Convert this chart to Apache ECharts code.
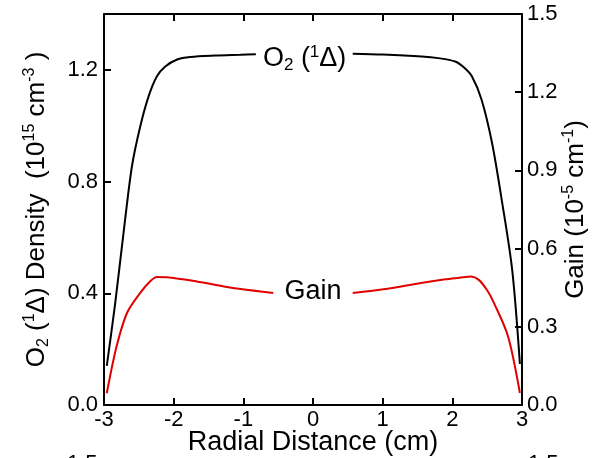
<!DOCTYPE html>
<html>
<head>
<meta charset="utf-8">
<script src="https://cdn.jsdelivr.net/npm/echarts@6/dist/echarts.min.js"></script>
<style>
  html, body { margin: 0; padding: 0; background: #fff; }
  #chart { width: 594px; height: 458px; }
</style>
</head>
<body>
<div id="chart"></div>
<script>
// Radial position across the discharge (cm)
const densityX = [-2.96, -2.84, -2.72, -2.60, -2.48, -2.36, -2.24, -2.12, -1.95, -1.76, -1.40, -1.04, -0.82, 0.0, 0.57, 1.0, 1.56, 1.80, 2.04, 2.16, 2.28, 2.42, 2.57, 2.71, 2.86, 2.97];
// O2(1Δ) density (10^15 cm^-3); null leaves room for the curve label
const densityY = [0.14, 0.363, 0.615, 0.853, 0.997, 1.105, 1.177, 1.212, 1.237, 1.246, 1.251, 1.254, 1.256, null, 1.258, 1.255, 1.248, 1.242, 1.230, 1.210, 1.177, 1.093, 0.938, 0.733, 0.482, 0.147];

const gainX = [-2.96, -2.82, -2.67, -2.48, -2.34, -2.24, -2.10, -1.67, -1.28, -1.04, -0.57, 0.0, 0.57, 1.04, 1.55, 1.90, 2.10, 2.27, 2.38, 2.50, 2.60, 2.80, 2.97];
// Small-signal gain (10^-5 cm^-1)
const gainY = [0.045, 0.224, 0.353, 0.430, 0.474, 0.491, 0.490, 0.474, 0.455, 0.445, 0.430, null, 0.430, 0.445, 0.468, 0.482, 0.488, 0.493, 0.480, 0.440, 0.390, 0.263, 0.046];

// Axis tick values
const xTicks = [-3, -2, -1, 0, 1, 2, 3];
const densityTicks = [0.0, 0.4, 0.8, 1.2];
const gainTicks = [0.0, 0.3, 0.6, 0.9, 1.2, 1.5];

// Curve label anchors [x, y]
const densityLabelAt = [-0.12, 1.24];
const gainLabelAt = [0.0, 0.435];

const FONT = "'Liberation Sans', Arial, sans-serif";
const scriptStyles = {
  sup: { fontSize: 16, fontFamily: FONT, color: '#000', verticalAlign: 'top', lineHeight: 16 },
  sub: { fontSize: 16, fontFamily: FONT, color: '#000', verticalAlign: 'bottom', lineHeight: 16 }
};

const pairs = (xs, ys) => xs.map((x, i) => [x, ys[i]]);

const chart = echarts.init(document.getElementById('chart'), null, { renderer: 'canvas' });

const axisLine = { show: true, onZero: false, lineStyle: { color: '#000', width: 2 } };
const axisTick = { show: true, inside: true, length: 7, lineStyle: { color: '#000', width: 2 } };

chart.setOption({
  animation: false,
  backgroundColor: '#fff',
  textStyle: { fontFamily: FONT },
  grid: { left: 104, right: 72, top: 14, bottom: 53, containLabel: false, outerBoundsMode: 'none' },
  xAxis: [
    {
      type: 'value', position: 'bottom', min: xTicks[0], max: xTicks[xTicks.length - 1], interval: 1,
      axisLine, axisTick, splitLine: { show: false },
      axisLabel: { color: '#000', fontSize: 22, fontFamily: FONT, margin: 4, formatter: v => String(v) },
      name: 'Radial Distance (cm)', nameLocation: 'middle', nameGap: 24, nameMoveOverlap: false,
      nameTextStyle: { color: '#000', fontSize: 27, fontFamily: FONT }
    },
    {
      type: 'value', position: 'top', min: xTicks[0], max: xTicks[xTicks.length - 1], interval: 1,
      axisLine, axisTick, splitLine: { show: false }, axisLabel: { show: false }
    }
  ],
  yAxis: [
    {
      type: 'value', position: 'left', min: 0, max: 1.4, interval: 0.4,
      axisLine, axisTick, splitLine: { show: false },
      axisLabel: {
        color: '#000', fontSize: 22, fontFamily: FONT, margin: 6,
        formatter: v => densityTicks.some(t => Math.abs(t - v) < 1e-6) ? v.toFixed(1) : ''
      },
      name: 'O{sub|2} ({sup|1}Δ) Density  (10{sup|15} cm{sup|-3} )',
      nameLocation: 'middle', nameGap: 52, nameMoveOverlap: false,
      nameTextStyle: { color: '#000', fontSize: 26, fontFamily: FONT, lineHeight: 30, rich: scriptStyles }
    },
    {
      type: 'value', position: 'right', min: gainTicks[0], max: gainTicks[gainTicks.length - 1], interval: 0.3,
      axisLine, axisTick, splitLine: { show: false },
      axisLabel: { color: '#000', fontSize: 22, fontFamily: FONT, margin: 5, formatter: v => v.toFixed(1) },
      name: 'Gain (10{sup|-5} cm{sup|-1})',
      nameLocation: 'middle', nameGap: 39, nameMoveOverlap: false,
      nameTextStyle: { color: '#000', fontSize: 26, fontFamily: FONT, lineHeight: 30, rich: scriptStyles }
    }
  ],
  series: [
    {
      type: 'line', name: 'density', xAxisIndex: 0, yAxisIndex: 0,
      data: pairs(densityX, densityY), showSymbol: false, smooth: 0.3, connectNulls: false,
      lineStyle: { color: '#000', width: 2 },
      markPoint: {
        symbol: 'circle', symbolSize: 0, silent: true,
        data: [{ coord: densityLabelAt, value: 'density' }],
        label: {
          show: true, position: 'inside', color: '#000', fontSize: 27, fontFamily: FONT, lineHeight: 30,
          formatter: 'O{sub|2} ({sup|1}Δ)',
          rich: {
            sub: { fontSize: 17, fontFamily: FONT, color: '#000', verticalAlign: 'bottom', lineHeight: 17 },
            sup: { fontSize: 17, fontFamily: FONT, color: '#000', verticalAlign: 'top', lineHeight: 17 }
          }
        }
      }
    },
    {
      type: 'line', name: 'gain', xAxisIndex: 0, yAxisIndex: 1,
      data: pairs(gainX, gainY), showSymbol: false, smooth: 0.3, connectNulls: false,
      lineStyle: { color: '#e00000', width: 2 },
      markPoint: {
        symbol: 'circle', symbolSize: 0, silent: true,
        data: [{ coord: gainLabelAt, value: 'gain' }],
        label: { show: true, position: 'inside', color: '#000', fontSize: 27, fontFamily: FONT, formatter: 'Gain' }
      }
    }
  ],
  graphic: [
    // tops of the next panel's tick labels, cut by the bottom edge
    { type: 'text', left: 67, top: 453, silent: true, style: { text: '1.5', fontSize: 22, fontFamily: FONT, fill: '#000' } },
    { type: 'text', left: 528, top: 453, silent: true, style: { text: '1.5', fontSize: 22, fontFamily: FONT, fill: '#000' } }
  ]
});
</script>
</body>
</html>
